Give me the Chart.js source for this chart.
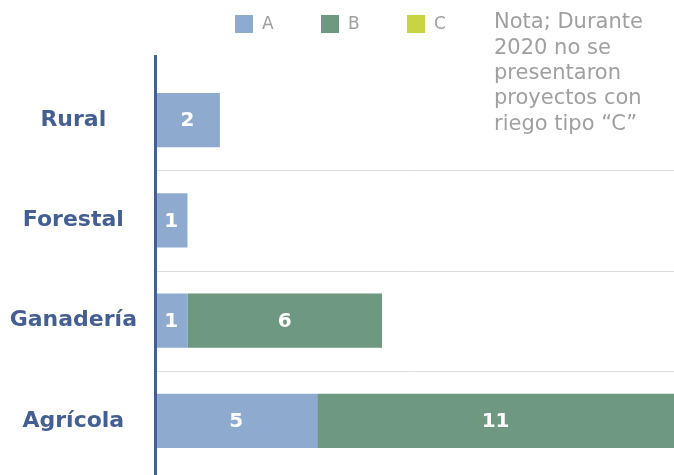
<!DOCTYPE html>
<html>
<head>
<meta charset="utf-8">
<script src="https://cdn.jsdelivr.net/npm/chart.js@4/dist/chart.umd.min.js"></script>
<style>
html,body{margin:0;padding:0;background:#fff;}
#wrap{width:674px;height:475px;position:relative;}
</style>
</head>
<body>
<div id="wrap"><canvas id="c" width="674" height="475"></canvas></div>
<script>
const categories = ["Rural", "Forestal", "Ganadería", "Agrícola"];
const seriesNames = ["A", "B", "C"];
const valuesA = [2, 1, 1, 5];
const valuesB = [0, 0, 6, 11];
const valuesC = [0, 0, 0, 0];
const seriesColors = ["#8eaacf", "#6e9880", "#c8d442"];
const noteLines = ["Nota; Durante", "2020 no se", "presentaron", "proyectos con", "riego tipo “C”"];

const FONT = "'DejaVu Sans', 'Open Sans', sans-serif";

const overlayPlugin = {
  id: 'overlay',
  beforeDatasetsDraw(chart) {
    const ctx = chart.ctx;
    const area = chart.chartArea;
    const y = chart.scales.y;
    ctx.save();
    ctx.strokeStyle = "#dcdcdc";
    ctx.lineWidth = 1;
    for (let i = 1; i < categories.length; i++) {
      const py = Math.round(y.getPixelForValue(i - 0.5)) + 0.5;
      ctx.beginPath();
      ctx.moveTo(area.left, py);
      ctx.lineTo(area.right, py);
      ctx.stroke();
    }
    ctx.restore();
  },
  afterDatasetsDraw(chart) {
    const ctx = chart.ctx;
    ctx.save();
    ctx.font = "bold 20px " + FONT;
    ctx.fillStyle = "#ffffff";
    ctx.textAlign = "center";
    ctx.textBaseline = "middle";
    chart.data.datasets.forEach((ds, di) => {
      const meta = chart.getDatasetMeta(di);
      meta.data.forEach((bar, i) => {
        const v = ds.data[i];
        if (!v) return;
        const p = bar.getProps(['x', 'y', 'base'], true);
        ctx.fillText(String(v), (p.x + p.base) / 2, p.y + 1);
      });
    });
    ctx.restore();
  },
  afterDraw(chart) {
    const ctx = chart.ctx;
    const area = chart.chartArea;
    ctx.save();
    ctx.strokeStyle = "#445f94";
    ctx.lineWidth = 3;
    ctx.beginPath();
    ctx.moveTo(area.left + 0.5, 55);
    ctx.lineTo(area.left + 0.5, chart.height);
    ctx.stroke();
    ctx.font = "17px " + FONT;
    ctx.textBaseline = "middle";
    ctx.textAlign = "left";
    const lx0 = 235, step = 86, ly = 24;
    chart.data.datasets.forEach((ds, i) => {
      const x = lx0 + i * step;
      ctx.fillStyle = ds.backgroundColor;
      ctx.fillRect(x, ly - 9, 18, 18);
      ctx.fillStyle = "#a0a0a0";
      ctx.fillText(ds.label, x + 27, ly + 1);
    });
    ctx.font = "21px " + FONT;
    ctx.fillStyle = "#a0a0a0";
    ctx.textBaseline = "middle";
    noteLines.forEach((t, i) => {
      ctx.fillText(t, 494, 23 + i * 25.3);
    });
    ctx.restore();
  }
};

new Chart(document.getElementById('c'), {
  type: 'bar',
  data: {
    labels: categories,
    datasets: [
      { label: seriesNames[0], data: valuesA, backgroundColor: seriesColors[0] },
      { label: seriesNames[1], data: valuesB, backgroundColor: seriesColors[1] },
      { label: seriesNames[2], data: valuesC, backgroundColor: seriesColors[2] }
    ]
  },
  options: {
    indexAxis: 'y',
    responsive: false,
    animation: false,
    layout: { padding: { top: 70, bottom: 4, left: 0, right: 0 } },
    datasets: { bar: { barPercentage: 0.54, categoryPercentage: 1.0 } },
    plugins: {
      legend: { display: false },
      tooltip: { enabled: false }
    },
    scales: {
      x: {
        stacked: true,
        min: 0,
        max: 16,
        display: false
      },
      y: {
        stacked: true,
        border: { display: false },
        grid: { display: false },
        ticks: {
          crossAlign: 'center',
          padding: 10,
          color: '#445f94',
          font: { family: FONT, size: 22, weight: 'bold' }
        },
        afterFit(scale) {
          scale.width = 155;
          scale.paddingTop = 0;
          scale.paddingBottom = 0;
        }
      }
    }
  },
  plugins: [overlayPlugin]
});
</script>
</body>
</html>
